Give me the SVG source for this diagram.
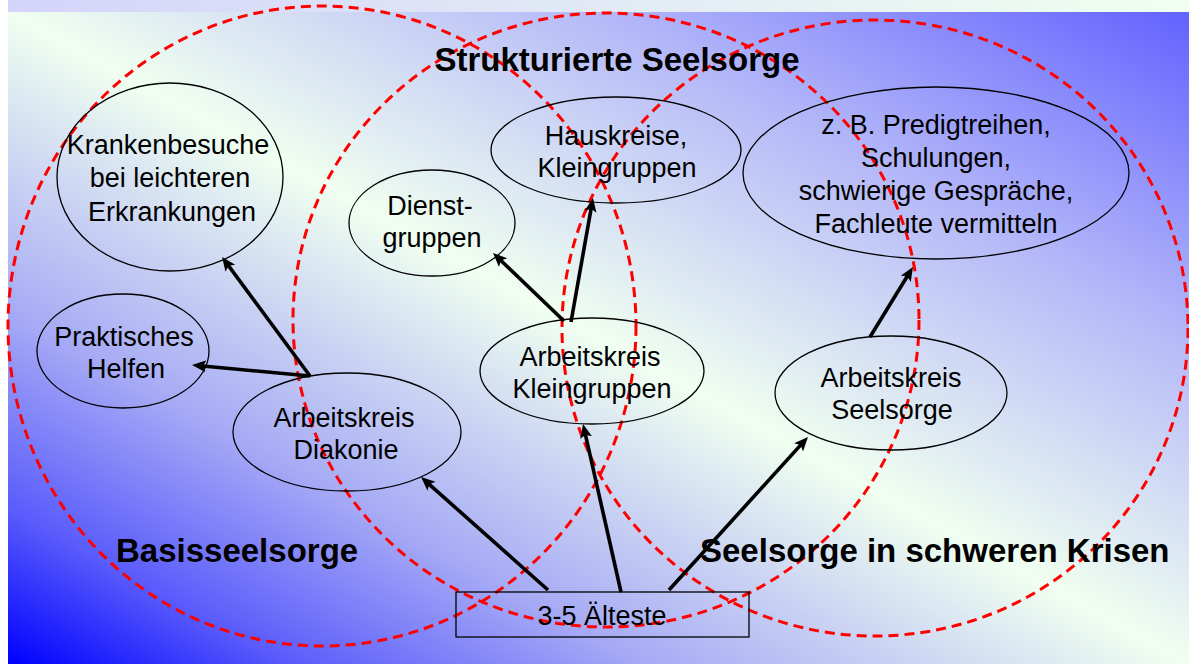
<svg xmlns="http://www.w3.org/2000/svg" width="1189" height="664" viewBox="0 0 1189 664">
<defs>
<linearGradient id="bg" x1="0" y1="1" x2="1" y2="0">
<stop offset="0" stop-color="#0000ff"/>
<stop offset="0.12" stop-color="#5a5cfb"/>
<stop offset="0.27" stop-color="#a6aaf5"/>
<stop offset="0.5" stop-color="#f0fff0"/>
<stop offset="0.75" stop-color="#b4b8f8"/>
<stop offset="1" stop-color="#6262ff"/>
</linearGradient>
<linearGradient id="band" x1="0" y1="0" x2="1" y2="0">
<stop offset="0" stop-color="#d4d4fa"/>
<stop offset="1" stop-color="#f0fff0"/>
</linearGradient>
<marker id="ah" markerUnits="userSpaceOnUse" markerWidth="16" markerHeight="14" refX="6" refY="6" orient="auto">
<path d="M0,0 L14,6 L0,12 L3,6 z" fill="#000"/>
</marker>
<style>
.zone{fill:none;stroke:#ff0000;stroke-width:3;stroke-dasharray:10,6}
.node{fill:none;stroke:#000;stroke-width:1.3}
.t{font-family:"Liberation Sans",Arial,sans-serif;font-size:27px;fill:#000;text-anchor:middle}
.h{font-family:"Liberation Sans",Arial,sans-serif;font-size:33px;font-weight:bold;fill:#000}
.c{stroke:#000;stroke-width:3.6;fill:none;marker-end:url(#ah)}
</style>
</defs>
<rect x="0" y="0" width="1189" height="664" fill="#ffffff"/>
<rect x="8" y="0" width="1181" height="12" fill="url(#band)"/>
<rect x="8" y="12" width="1181" height="652" fill="url(#bg)"/>

<g id="zones">
<ellipse class="zone" cx="322" cy="326" rx="314" ry="320"/>
<ellipse class="zone" cx="606" cy="320" rx="313" ry="307"/>
<ellipse class="zone" cx="875" cy="328" rx="313" ry="308"/>
</g>

<g id="labels">
<text class="h" x="617" y="71" text-anchor="middle">Strukturierte Seelsorge</text>
<text class="h" x="116" y="562">Basisseelsorge</text>
<text class="h" x="700" y="562">Seelsorge in schweren Krisen</text>
</g>

<g id="krankenbesuche">
<ellipse class="node" cx="170" cy="177" rx="113" ry="94"/>
<text class="t" x="168" y="154">Krankenbesuche</text>
<text class="t" x="170" y="187">bei leichteren</text>
<text class="t" x="172" y="221">Erkrankungen</text>
</g>

<g id="praktisches">
<ellipse class="node" cx="123" cy="351" rx="86" ry="57"/>
<text class="t" x="124" y="346">Praktisches</text>
<text class="t" x="126" y="378">Helfen</text>
</g>

<g id="diakonie">
<ellipse class="node" cx="347" cy="432" rx="114" ry="59"/>
<text class="t" x="344" y="427">Arbeitskreis</text>
<text class="t" x="346" y="459">Diakonie</text>
</g>

<g id="dienstgruppen">
<ellipse class="node" cx="432" cy="223" rx="83" ry="53"/>
<text class="t" x="430" y="215">Dienst-</text>
<text class="t" x="432" y="247">gruppen</text>
</g>

<g id="hauskreise">
<ellipse class="node" cx="616" cy="150" rx="125" ry="53"/>
<text class="t" x="616" y="145">Hauskreise,</text>
<text class="t" x="617" y="177">Kleingruppen</text>
</g>

<g id="ak-kleingruppen">
<ellipse class="node" cx="592" cy="371" rx="112" ry="53"/>
<text class="t" x="590" y="366">Arbeitskreis</text>
<text class="t" x="592" y="398">Kleingruppen</text>
</g>

<g id="schwere-krisen">
<ellipse class="node" cx="936" cy="173" rx="193" ry="86"/>
<text class="t" x="936" y="134">z. B. Predigtreihen,</text>
<text class="t" x="936" y="167">Schulungen,</text>
<text class="t" x="936" y="200">schwierige Gespräche,</text>
<text class="t" x="936" y="233">Fachleute vermitteln</text>
</g>

<g id="ak-seelsorge">
<ellipse class="node" cx="891" cy="393" rx="116" ry="57"/>
<text class="t" x="891" y="387">Arbeitskreis</text>
<text class="t" x="892" y="419">Seelsorge</text>
</g>

<g id="aelteste">
<rect x="456" y="592" width="293" height="45" fill="none" stroke="#000" stroke-width="1.3"/>
<text class="t" x="602" y="625">3-5 Älteste</text>
</g>

<g id="connectors">
<line class="c" x1="548" y1="590" x2="427" y2="482.3"/>
<line class="c" x1="621" y1="592" x2="584.8" y2="431.8"/>
<line class="c" x1="669" y1="590" x2="802.6" y2="442.9"/>
<line class="c" x1="310" y1="376" x2="200" y2="365.7"/>
<line class="c" x1="310" y1="376" x2="226.8" y2="263.4"/>
<line class="c" x1="564" y1="321" x2="498.8" y2="258.5"/>
<line class="c" x1="571" y1="322" x2="591.6" y2="205.9"/>
<line class="c" x1="870" y1="337" x2="908.8" y2="273.8"/>
</g>
</svg>
